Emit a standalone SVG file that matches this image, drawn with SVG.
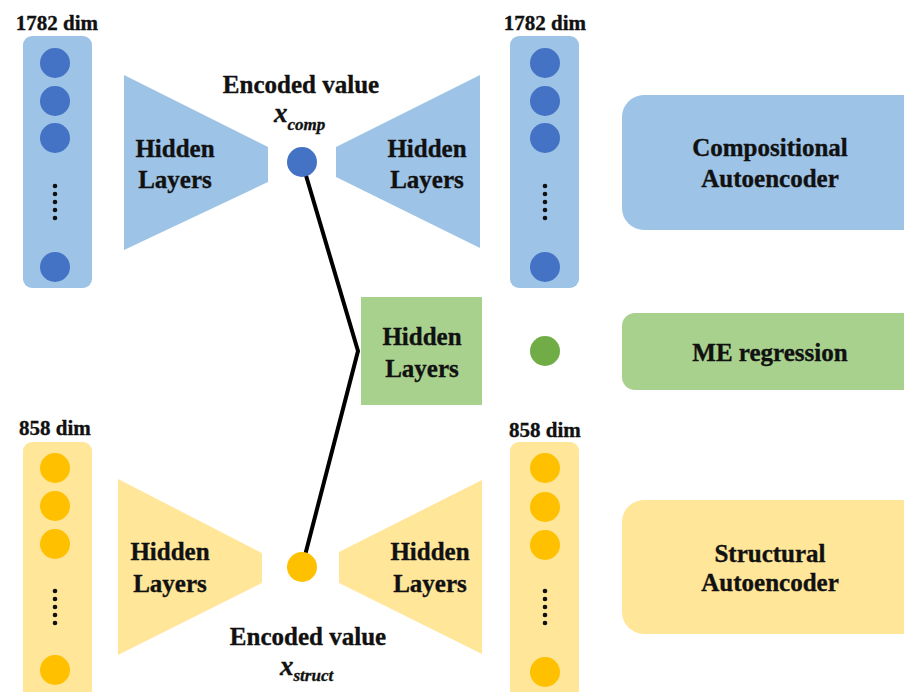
<svg xmlns="http://www.w3.org/2000/svg" width="904" height="692" viewBox="0 0 904 692">
<style>
text{font-family:"Liberation Serif","Times New Roman",serif;font-weight:bold;fill:#111;stroke:#111;stroke-width:0.35;text-anchor:middle}
.lbl{font-size:25px}
.dim{font-size:21px}
.var{font-size:27px;font-style:italic;text-anchor:start}
.sub{font-size:17px;font-style:italic}
.bcol{fill:#9DC3E6}.bdot{fill:#4472C4}
.ycol{fill:#FFE699}.ydot{fill:#FFC000}
.dots{fill:#111}
</style>
<defs>
<g id="dotsv"><circle cx="0" cy="0" r="2.3"/><circle cx="0" cy="8" r="2.3"/><circle cx="0" cy="16" r="2.3"/><circle cx="0" cy="24" r="2.3"/><circle cx="0" cy="32" r="2.3"/></g>
</defs>
<g id="connectors">
<polyline points="302,162 358,351 302,567" fill="none" stroke="#000" stroke-width="4" stroke-linejoin="miter"/>
</g>
<g id="comp-input">
<text class="dim" x="57" y="30">1782 dim</text>
<rect class="bcol" x="23" y="36" width="69" height="252" rx="9"/>
<circle class="bdot" cx="55" cy="63" r="15"/><circle class="bdot" cx="55" cy="101" r="15"/><circle class="bdot" cx="55" cy="138" r="15"/><circle class="bdot" cx="55" cy="267" r="15"/>
<use href="#dotsv" x="55" y="186" class="dots"/>
</g>
<g id="comp-encoder">
<polygon class="bcol" points="124,75 268,147 268,182 124,250"/>
<text class="lbl" x="175" y="157">Hidden</text><text class="lbl" x="175" y="188">Layers</text>
</g>
<g id="comp-code">
<text class="lbl" x="301" y="93">Encoded value</text>
<text class="var" x="274" y="122">x<tspan class="sub" dy="8">comp</tspan></text>
<circle class="bdot" cx="302" cy="162" r="15"/>
</g>
<g id="comp-decoder">
<polygon class="bcol" points="336,147 480,75 480,248 336,177"/>
<text class="lbl" x="427" y="157">Hidden</text><text class="lbl" x="427" y="188">Layers</text>
</g>
<g id="comp-output">
<text class="dim" x="545" y="30">1782 dim</text>
<rect class="bcol" x="510" y="36" width="69" height="252" rx="9"/>
<circle class="bdot" cx="545" cy="63" r="15"/><circle class="bdot" cx="545" cy="101" r="15"/><circle class="bdot" cx="545" cy="138" r="15"/><circle class="bdot" cx="545" cy="267" r="15"/>
<use href="#dotsv" x="545" y="186" class="dots"/>
</g>
<g id="legend-comp">
<rect class="bcol" x="622" y="95" width="320" height="135" rx="22"/>
<text class="lbl" x="770" y="156">Compositional</text><text class="lbl" x="770" y="187">Autoencoder</text>
</g>
<g id="me-hidden">
<rect fill="#A9D18E" x="361" y="297" width="121" height="108"/>
<text class="lbl" x="422" y="345">Hidden</text><text class="lbl" x="422" y="377">Layers</text>
</g>
<g id="me-output">
<circle fill="#70AD47" cx="545" cy="351" r="15"/>
</g>
<g id="legend-me">
<rect fill="#A9D18E" x="622" y="313" width="320" height="77" rx="13"/>
<text class="lbl" x="770" y="361">ME regression</text>
</g>
<g id="struct-input">
<text class="dim" x="55" y="435">858 dim</text>
<rect class="ycol" x="23" y="442" width="69" height="262" rx="9"/>
<circle class="ydot" cx="55" cy="468" r="15"/><circle class="ydot" cx="55" cy="506" r="15"/><circle class="ydot" cx="55" cy="544" r="15"/><circle class="ydot" cx="55" cy="670" r="15"/>
<use href="#dotsv" x="55" y="591" class="dots"/>
</g>
<g id="struct-encoder">
<polygon class="ycol" points="118,479 262,553 262,583 118,655"/>
<text class="lbl" x="170" y="560">Hidden</text><text class="lbl" x="170" y="592">Layers</text>
</g>
<g id="struct-code">
<circle class="ydot" cx="302" cy="567" r="15"/>
<text class="lbl" x="308" y="645">Encoded value</text>
<text class="var" x="280" y="675">x<tspan class="sub" dy="6">struct</tspan></text>
</g>
<g id="struct-decoder">
<polygon class="ycol" points="339,552 482,480 482,654 339,583"/>
<text class="lbl" x="430" y="560">Hidden</text><text class="lbl" x="430" y="592">Layers</text>
</g>
<g id="struct-output">
<text class="dim" x="545" y="437">858 dim</text>
<rect class="ycol" x="510" y="442" width="69" height="262" rx="9"/>
<circle class="ydot" cx="545" cy="468" r="15"/><circle class="ydot" cx="545" cy="507" r="15"/><circle class="ydot" cx="545" cy="545" r="15"/><circle class="ydot" cx="545" cy="672" r="15"/>
<use href="#dotsv" x="545" y="591" class="dots"/>
</g>
<g id="legend-struct">
<rect class="ycol" x="622" y="500" width="320" height="134" rx="22"/>
<text class="lbl" x="770" y="562">Structural</text><text class="lbl" x="770" y="591">Autoencoder</text>
</g>
</svg>
